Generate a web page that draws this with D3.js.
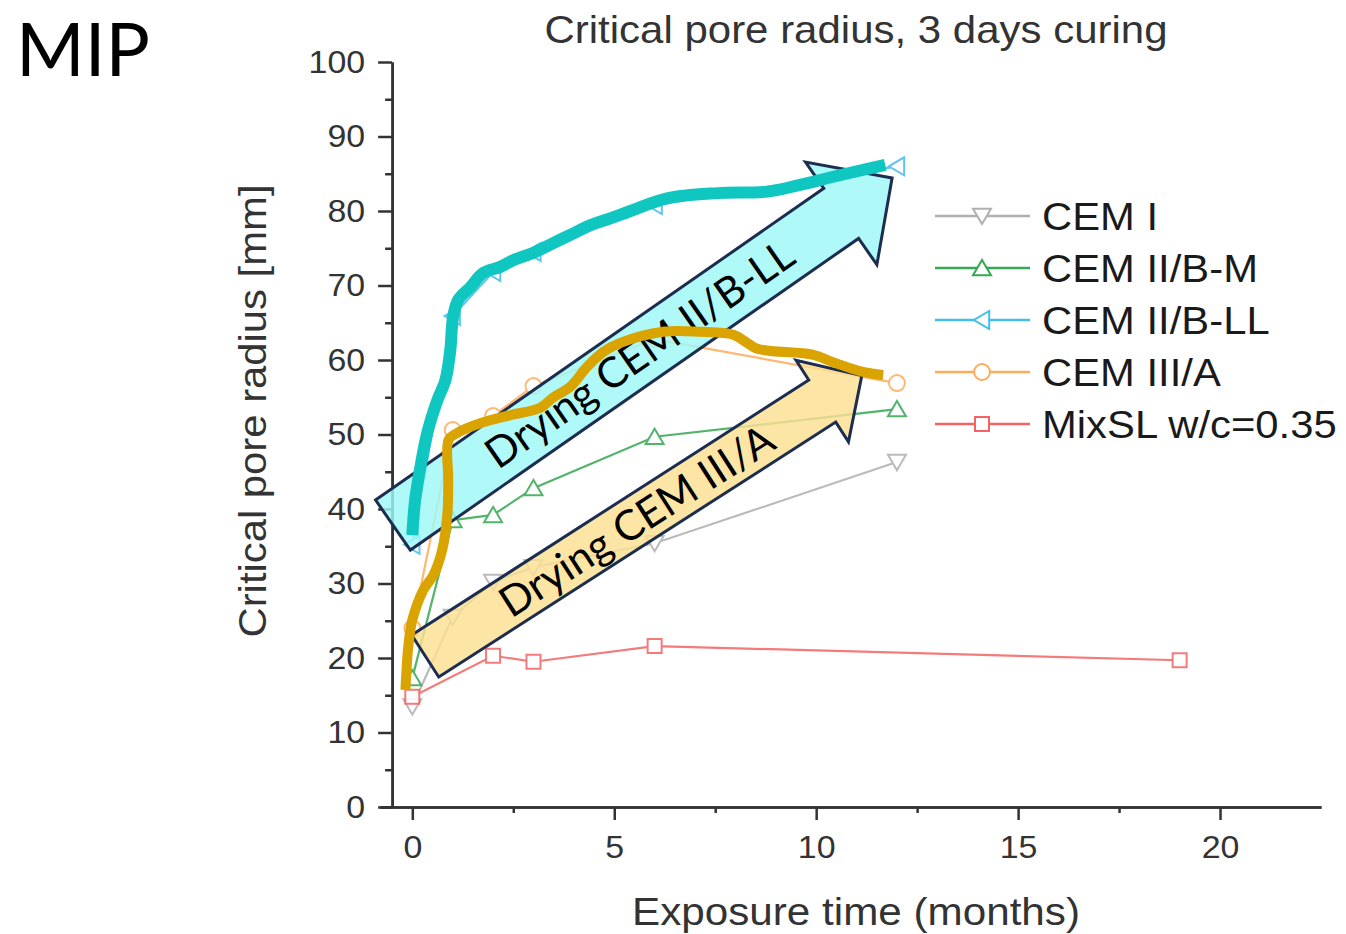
<!DOCTYPE html>
<html>
<head>
<meta charset="utf-8">
<script src="https://cdn.jsdelivr.net/npm/d3@7"></script>
<style>
body{margin:0;background:#fff;}
svg{display:block;}
text{font-family:"Liberation Sans",Arial,sans-serif;}
</style>
</head>
<body>
<svg></svg>
<script>
var width=1346;
var height=934;

// data
var months=[0,1,2,3,6,12];
var cemI=[13.5,25.5,30.2,32.2,35.4,46.3];
var cemIIBM=[17.3,38.5,39.2,42.8,49.7,53.4];
var cemIIBLL=[35.2,65.9,71.8,74.5,80.8,86.0];
var cemIIIA=[24.0,50.6,52.5,56.5,62.8,56.9];
var mixMonths=[0,2,3,6,19];
var mixSL=[14.8,20.3,19.5,21.6,19.7];

var seriesNames=["CEM I","CEM II/B-M","CEM II/B-LL","CEM III/A","MixSL w/c=0.35"];
var yTicks=d3.range(0,101,10);
var xTicks=[0,5,10,15,20];

// hand drawn trend strokes (months, radius)
var traceLL=[[0,36.5],[0.07,41.2],[0.2,45.6],[0.37,50.2],[0.62,54.6],[0.82,57.3],[0.94,61.3],[1.01,65.8],
  [1.14,68.1],[1.44,69.8],[1.76,71.7],[2.18,72.5],[2.5,73.4],[3.0,74.4],[3.49,75.7],[3.99,77.0],[4.41,78.1],
  [4.9,79.0],[5.4,80.0],[6.31,81.7],[7.55,82.4],[8.79,82.6],[9.6,83.5],[10.42,84.6],[11.71,86.2]];
var traceA=[[-0.17,15.7],[-0.1,21.5],[0,25.1],[0.27,29.1],[0.52,31.1],[0.74,34.5],[0.87,39.5],[0.89,43.9],
  [0.9,49.3],[1.11,50.2],[1.68,51.5],[2.43,52.6],[3.17,53.6],[3.47,54.9],[3.91,56.4],[4.33,59.1],[4.73,61.1],
  [5.15,62.3],[6.21,63.8],[7.13,63.8],[7.95,63.4],[8.29,62.3],[8.54,61.5],[9.93,60.7],[10.42,59.7],[11.16,58.4],[11.66,58.0]];

// block arrows: start and tip in data units
var arrowLL={from:[-0.48,37.85],to:[11.88,84.43],text:"Drying CEM II/B-LL"};
var arrowA={from:[0.32,20.27],to:[11.13,57.9],text:"Drying CEM III/A"};

var svg=d3.select("svg").attr("width",width).attr("height",height);

var scalex=d3.scaleLinear().domain([-0.8,22.5]).range([380,1321]);
var scaley=d3.scaleLinear().domain([0,100]).range([807,62]);

var series=[
  {name:seriesNames[0],xs:months,ys:cemI,color:"#b0b0b0",shape:"down"},
  {name:seriesNames[1],xs:months,ys:cemIIBM,color:"#35a852",shape:"up"},
  {name:seriesNames[2],xs:months,ys:cemIIBLL,color:"#43bdec",shape:"left"},
  {name:seriesNames[3],xs:months,ys:cemIIIA,color:"#ffac5a",shape:"circle"},
  {name:seriesNames[4],xs:mixMonths,ys:mixSL,color:"#f26464",shape:"square"}
];

// the original lettering is a bit wider than Liberation Sans
function stretch(sel,f){
  sel.each(function(){
    var w=this.getComputedTextLength();
    d3.select(this).attr("textLength",w*f).attr("lengthAdjust","spacingAndGlyphs");
  });
}

function marker(shape){
  var s=9;
  if(shape=="down") return "M"+(-s)+","+(-s*0.8)+"L"+s+","+(-s*0.8)+"L0,"+(s*0.9)+"Z";
  if(shape=="up") return "M"+(-s)+","+(s*0.8)+"L"+s+","+(s*0.8)+"L0,"+(-s*0.9)+"Z";
  if(shape=="left") return "M"+(s*0.8)+","+(-s)+"L"+(s*0.8)+","+s+"L"+(-s*0.9)+",0Z";
  if(shape=="square") return "M-7,-7H7V7H-7Z";
  return d3.symbol(d3.symbolCircle,200)();
}

// axes
var yaxis=d3.axisLeft(scaley).tickValues(yTicks).tickSize(14).tickSizeOuter(0).tickPadding(13);
var yminor=d3.axisLeft(scaley).tickValues(d3.range(5,100,10)).tickSize(7).tickSizeOuter(0).tickFormat("");
var xaxis=d3.axisBottom(scalex).tickValues(xTicks).tickSize(13).tickSizeOuter(0).tickPadding(15);
var xminor=d3.axisBottom(scalex).tickValues([2.5,7.5,12.5,17.5]).tickSize(6).tickSizeOuter(0).tickFormat("");

function styleAxis(g){
  g.select(".domain").attr("stroke","#333").attr("stroke-width",2.5);
  g.selectAll(".tick line").attr("stroke","#333").attr("stroke-width",2.5);
  g.selectAll(".tick text").attr("fill","#333").style("font-size","32px").style("font-family","'Liberation Sans',Arial,sans-serif");
  stretch(g.selectAll(".tick text"),1.06);
}

svg.append("g").attr("transform","translate(0,807)").call(xminor).call(styleAxis);
svg.append("g").attr("transform","translate(0,807)").call(xaxis).call(styleAxis);
svg.append("g").attr("transform","translate("+scalex(-0.5)+",0)").call(yminor).call(styleAxis);
svg.append("g").attr("transform","translate("+scalex(-0.5)+",0)").call(yaxis).call(styleAxis);

// data lines
var line=d3.line().x(d=>scalex(d[0])).y(d=>scaley(d[1]));
series.forEach(function(s){
  var pts=s.xs.map((v,i)=>[v,s.ys[i]]);
  var g=svg.append("g").attr("opacity",0.85);
  g.append("path").attr("d",line(pts)).attr("fill","none").attr("stroke",s.color).attr("stroke-width",2.2);
  g.selectAll("path.m").data(pts).enter().append("path").classed("m",true)
    .attr("transform",d=>"translate("+scalex(d[0])+","+scaley(d[1])+")")
    .attr("d",marker(s.shape)).attr("fill","#fff").attr("stroke",s.color).attr("stroke-width",2);
});

// legend
var legend=svg.append("g");
series.forEach(function(s,i){
  var ly=216+i*52;
  legend.append("line").attr("x1",935).attr("x2",1030).attr("y1",ly).attr("y2",ly).attr("stroke",s.color).attr("stroke-width",2.5);
  legend.append("path").attr("transform","translate(982,"+ly+")").attr("d",marker(s.shape)).attr("fill","#fff").attr("stroke",s.color).attr("stroke-width",2);
  legend.append("text").attr("x",1042).attr("y",ly).attr("dy","0.36em").style("font-size","38px").attr("fill","#1a1a1a").text(s.name);
});
stretch(legend.selectAll("text"),1.1);

// block arrows
function drawArrow(a,shaftW,headW,headL,fill,textT){
  var p0=[scalex(a.from[0]),scaley(a.from[1])];
  var p1=[scalex(a.to[0]),scaley(a.to[1])];
  var dx=p1[0]-p0[0],dy=p1[1]-p0[1];
  var L=Math.sqrt(dx*dx+dy*dy);
  var angle=Math.atan2(dy,dx)*180/Math.PI;
  var g=svg.append("g").attr("transform","translate("+p0[0]+","+p0[1]+") rotate("+angle+")");
  var b=L-headL;
  var pts=[[0,-shaftW/2],[b,-shaftW/2],[b,-headW/2],[L,0],[b,headW/2],[b,shaftW/2],[0,shaftW/2]];
  g.append("path").attr("d","M"+pts.join("L")+"Z")
    .attr("fill",fill).attr("fill-opacity",0.82)
    .attr("stroke","#1c2d4f").attr("stroke-width",3).attr("stroke-linejoin","miter");
  return {g:g,t:textT};
}
var aLL=drawArrow(arrowLL,61,125,62,"#9ff8f8",300);
var aA=drawArrow(arrowA,50,97,47,"#fddf92",251);

aLL.g.append("text").attr("x",aLL.t).attr("y",0).attr("dy","0.36em").attr("text-anchor","middle")
  .style("font-family","Lato,'Open Sans',sans-serif").style("font-size","42px").attr("fill","#000").text(arrowLL.text);
aA.g.append("text").attr("x",aA.t).attr("y",0).attr("dy","0.36em").attr("text-anchor","middle")
  .style("font-family","Lato,'Open Sans',sans-serif").style("font-size","42px").attr("fill","#000").text(arrowA.text);

// thick hand drawn strokes
var curve=d3.line().x(d=>scalex(d[0])).y(d=>scaley(d[1])).curve(d3.curveCatmullRom);
svg.append("path").attr("d",curve(traceLL)).attr("fill","none").attr("stroke","#0fc6c0")
  .attr("stroke-width",12).attr("stroke-linecap","butt").attr("stroke-linejoin","round");
svg.append("path").attr("d",curve(traceA)).attr("fill","none").attr("stroke","#d9a400")
  .attr("stroke-width",10).attr("stroke-linecap","butt").attr("stroke-linejoin","round");

// titles
svg.append("text").attr("x",856).attr("y",43).attr("text-anchor","middle")
  .style("font-size","39px").attr("fill","#333").attr("textLength",623).attr("lengthAdjust","spacingAndGlyphs")
  .text("Critical pore radius, 3 days curing");
svg.append("text").attr("x",856).attr("y",925).attr("text-anchor","middle")
  .style("font-size","39px").attr("fill","#333").attr("textLength",448).attr("lengthAdjust","spacingAndGlyphs")
  .text("Exposure time (months)");
svg.append("text").attr("transform","translate(266,411) rotate(-90)").attr("text-anchor","middle")
  .style("font-size","38px").attr("fill","#333").attr("textLength",453).attr("lengthAdjust","spacingAndGlyphs")
  .text("Critical pore radius [mm]");
svg.append("text").attr("x",16).attr("y",76)
  .style("font-family","Lato,'Open Sans',sans-serif").style("font-size","74px").attr("fill","#000").text("MIP");
</script>
</body>
</html>
